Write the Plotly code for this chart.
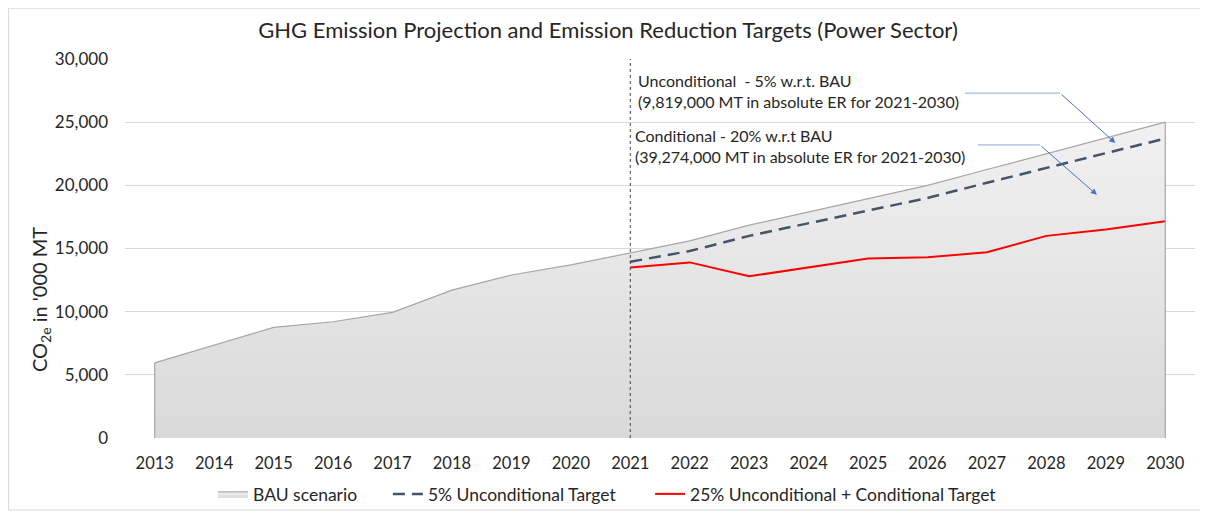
import plotly.graph_objects as go

# values ('000 MT CO2e)
years = [2013, 2014, 2015, 2016, 2017, 2018, 2019, 2020, 2021,
         2022, 2023, 2024, 2025, 2026, 2027, 2028, 2029, 2030]
bau = [5950, 7350, 8750, 9200, 9950, 11700, 12900, 13700, 14650,
       15600, 16850, 17900, 18950, 20000, 21250, 22500, 23750, 25000]

target_years = [2021, 2022, 2023, 2024, 2025, 2026, 2027, 2028, 2029, 2030]
uncond_5 = [13950, 14800, 16000, 17000, 18000, 19000, 20200, 21400, 22550, 23700]
cond_25 = [13500, 13900, 12800, 13500, 14200, 14300, 14700, 16000, 16500, 17150]

font = "Lato"
txt = "#262626"

fig = go.Figure()

fig.add_trace(go.Scatter(
    x=years, y=bau, name="BAU scenario", mode="lines",
    line=dict(color="#a6a6a6", width=1.2),
    fill="tozeroy",
    fillgradient=dict(type="vertical",
                      colorscale=[[0, "#d9d9d9"], [1, "#f1f1f1"]]),
    legend="legend",
))
fig.add_trace(go.Scatter(
    x=target_years, y=uncond_5, name="5% Unconditional Target", mode="lines",
    line=dict(color="#44546a", width=2.5, dash="12px,7px"),
    legend="legend2",
))
fig.add_trace(go.Scatter(
    x=target_years, y=cond_25, name="25% Unconditional + Conditional Target",
    mode="lines", line=dict(color="#ff0000", width=2),
    legend="legend3",
))

# vertical edges of the BAU area
for i in (0, -1):
    fig.add_shape(type="line", x0=years[i], x1=years[i], y0=0, y1=bau[i],
                  line=dict(color="#a6a6a6", width=1.2))

# dotted marker at the start of the target period
fig.add_shape(type="line", x0=target_years[0], x1=target_years[0],
              yref="paper", y0=0, y1=1,
              line=dict(color="#404040", width=1, dash="dot"))

# outer chart frame
fig.add_shape(type="rect", xref="paper", yref="paper",
              x0=-0.1088, x1=1.0093, y0=-0.19, y1=1.134,
              line=dict(color="#d9d9d9", width=1), layer="below")

# callout texts
fig.add_annotation(x=2021.1, y=27500, xanchor="left", yanchor="middle",
                   text="Unconditional  - 5% w.r.t. BAU<br>(9,819,000 MT in absolute ER for 2021-2030)",
                   showarrow=False, align="left",
                   font=dict(family=font, size=16, color=txt))
fig.add_annotation(x=2021.05, y=23080, xanchor="left", yanchor="middle",
                   text="Conditional - 20% w.r.t BAU<br>(39,274,000 MT in absolute ER for 2021-2030)",
                   showarrow=False, align="left",
                   font=dict(family=font, size=16, color=txt))

# bent connectors: horizontal leg + arrow
arrow_col = "#8faadc"
fig.add_shape(type="line", x0=2026.63, x1=2028.23, y0=27300, y1=27300,
              line=dict(color=arrow_col, width=1))
fig.add_annotation(x=2029.16, y=23350, ax=2028.23, ay=27300,
                   axref="x", ayref="y", text="", showarrow=True,
                   arrowhead=2, arrowsize=1.2, arrowwidth=1, arrowcolor="#4472c4")
fig.add_shape(type="line", x0=2026.85, x1=2027.89, y0=23200, y1=23200,
              line=dict(color=arrow_col, width=1))
fig.add_annotation(x=2028.85, y=19250, ax=2027.89, ay=23200,
                   axref="x", ayref="y", text="", showarrow=True,
                   arrowhead=2, arrowsize=1.2, arrowwidth=1, arrowcolor="#4472c4")

# y axis title as rotated annotation
fig.add_annotation(xref="paper", yref="paper", x=-0.0794, y=0.364,
                   xanchor="center", yanchor="middle",
                   text="CO<sub>2e</sub> in '000 MT", textangle=-90,
                   showarrow=False, font=dict(family=font, size=20, color=txt))

leg = dict(orientation="h", yref="container", yanchor="middle", y=0.0414,
           xanchor="left", font=dict(family=font, size=17.5, color=txt),
           itemwidth=30, bgcolor="rgba(0,0,0,0)")

# page body has an 8px margin, so the figure is sized to the visible area
fig.update_layout(
    width=1200, height=507,
    margin=dict(l=117, r=13, t=51, b=77),
    paper_bgcolor="white", plot_bgcolor="white",
    font=dict(family=font, color=txt),
    title=dict(text="GHG Emission Projection and Emission Reduction Targets (Power Sector)",
               x=0.5, xref="container", y=0.956, yref="container", yanchor="middle",
               font=dict(family=font, size=22, color=txt)),
    showlegend=True,
    legend=dict(leg, x=0.0823),
    legend2=dict(leg, x=0.2457),
    legend3=dict(leg, x=0.4907),
    xaxis=dict(range=[2012.5, 2030.5], dtick=1, tickformat="d", showgrid=False,
               zeroline=False, showline=False, ticks="", automargin=False,
               tickfont=dict(family=font, size=16.5, color=txt), ticklabelstandoff=13),
    yaxis=dict(range=[0, 30000], dtick=5000, tickformat=",", showgrid=True,
               gridcolor="#d9d9d9", gridwidth=1, zeroline=False, showline=False,
               automargin=False,
               tickfont=dict(family=font, size=17, color=txt), ticklabelstandoff=16),
)

fig.write_html("out.html")
